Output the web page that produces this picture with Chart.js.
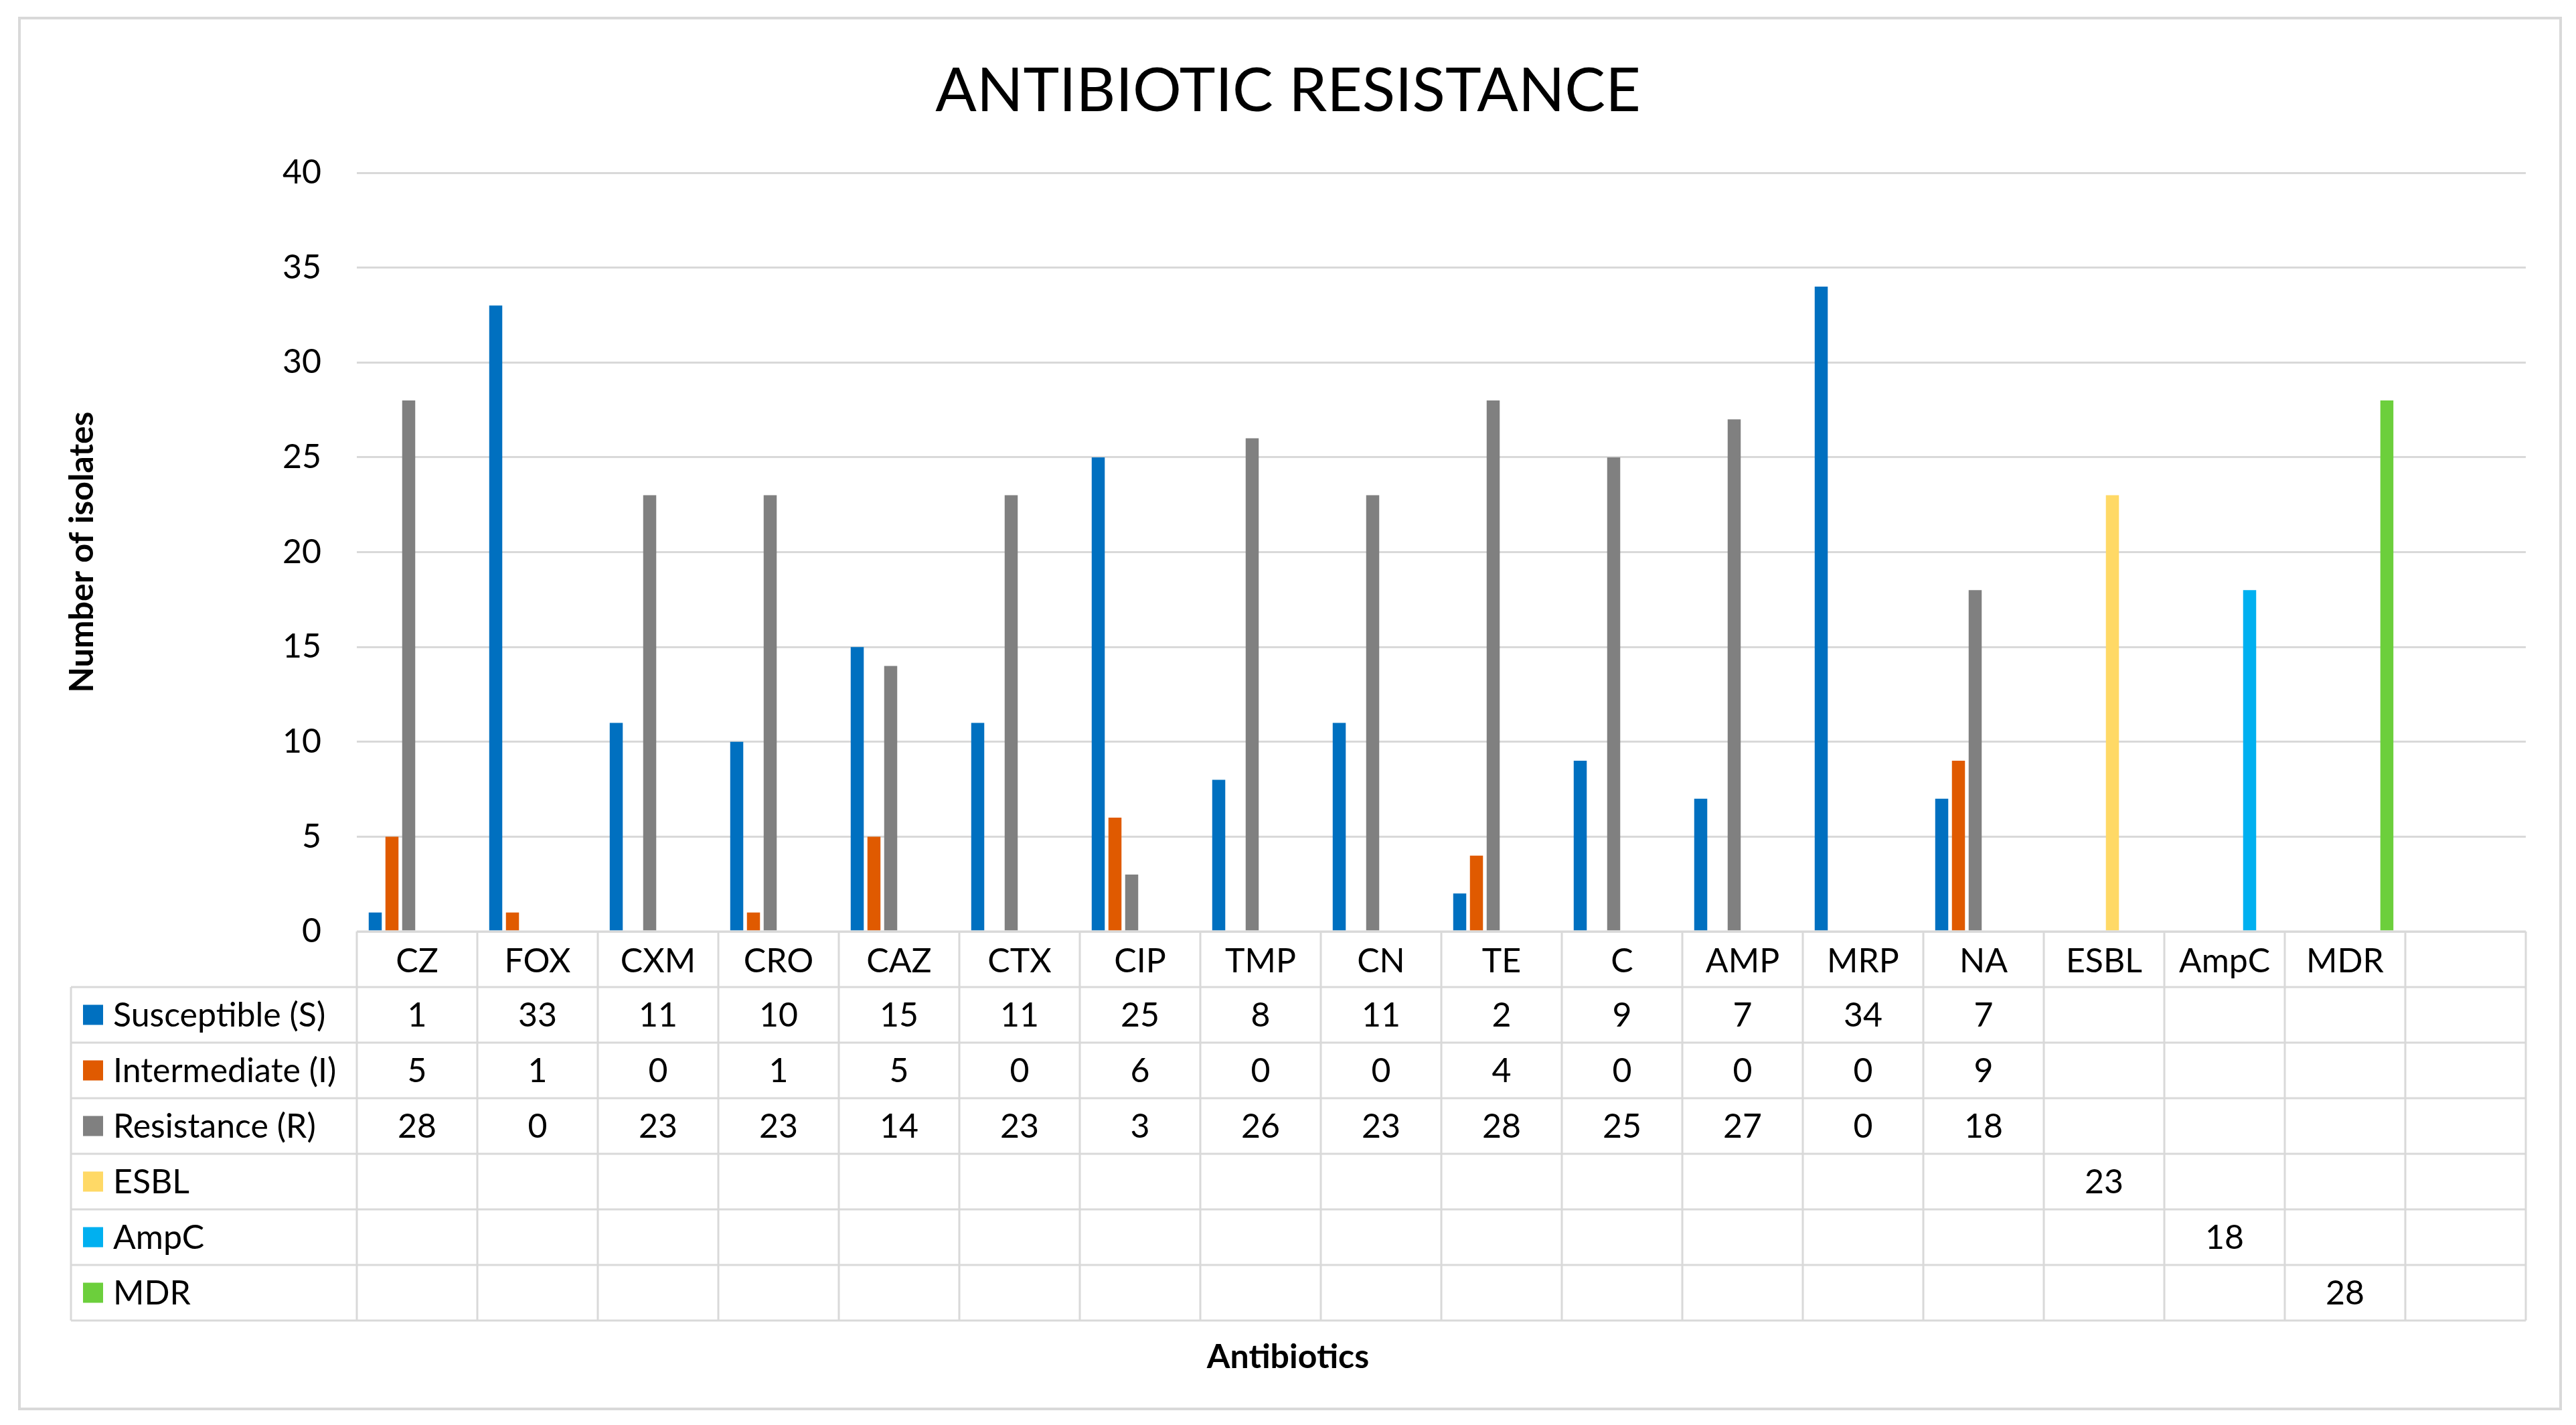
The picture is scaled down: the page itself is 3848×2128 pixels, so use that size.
<!DOCTYPE html>
<html>
<head>
<meta charset="utf-8">
<title>Antibiotic resistance</title>
<script src="https://cdn.jsdelivr.net/npm/chart.js@4.4.1/dist/chart.umd.min.js"></script>
<style>
  html, body { margin: 0; padding: 0; background: #fff; }
  canvas { display: block; }
</style>
</head>
<body>
<canvas id="chart" width="3848" height="2128"></canvas>
<script>
// Categories (last column is empty in the original)
const antibiotics = ['CZ', 'FOX', 'CXM', 'CRO', 'CAZ', 'CTX', 'CIP', 'TMP', 'CN', 'TE', 'C', 'AMP', 'MRP', 'NA', 'ESBL', 'AmpC', 'MDR', ''];

// Series values (null = no value in that column)
const susceptible  = [1, 33, 11, 10, 15, 11, 25, 8, 11, 2, 9, 7, 34, 7, null, null, null, null];
const intermediate = [5, 1, 0, 1, 5, 0, 6, 0, 0, 4, 0, 0, 0, 9, null, null, null, null];
const resistance   = [28, 0, 23, 23, 14, 23, 3, 26, 23, 28, 25, 27, 0, 18, null, null, null, null];
const esbl  = [null, null, null, null, null, null, null, null, null, null, null, null, null, null, 23, null, null, null];
const ampc  = [null, null, null, null, null, null, null, null, null, null, null, null, null, null, null, 18, null, null];
const mdr   = [null, null, null, null, null, null, null, null, null, null, null, null, null, null, null, null, 28, null];

// Y axis ticks
const yTicks = [0, 5, 10, 15, 20, 25, 30, 35, 40];

const seriesNames  = ['Susceptible (S)', 'Intermediate (I)', 'Resistance (R)', 'ESBL', 'AmpC', 'MDR'];
const seriesColors = ['#0070c0', '#e05a00', '#808080', '#ffd966', '#00b0f0', '#6ccf3c'];
const seriesData   = [susceptible, intermediate, resistance, esbl, ampc, mdr];

Chart.defaults.font.family = 'Lato';
Chart.defaults.color = '#000';

const gridColor = '#d9d9d9';
const textFont = '50px Lato';

// white background + outer chart border
const chartFrame = {
  id: 'chartFrame',
  beforeDraw(chart) {
    const ctx = chart.ctx;
    ctx.save();
    ctx.fillStyle = '#fff';
    ctx.fillRect(0, 0, chart.width, chart.height);
    ctx.strokeStyle = gridColor;
    ctx.lineWidth = 4;
    ctx.strokeRect(29, 27, 3796, 2077);
    ctx.restore();
  }
};

// data table under the plot (header row = x axis labels)
const dataTable = {
  id: 'dataTable',
  afterDraw(chart) {
    const ctx = chart.ctx;
    const xs = chart.scales.x;
    const top = chart.chartArea.bottom;
    const n = chart.data.labels.length;
    const colW = (xs.right - xs.left) / n;
    const rowH = 83;
    const sets = chart.data.datasets;
    const bottom = top + rowH * (sets.length + 1);
    const tableLeft = 106;

    ctx.save();
    ctx.strokeStyle = gridColor;
    ctx.lineWidth = 3;
    ctx.beginPath();
    ctx.moveTo(xs.left, top);
    ctx.lineTo(xs.right, top);
    for (let r = 1; r <= sets.length + 1; r++) {
      const y = top + r * rowH;
      ctx.moveTo(tableLeft, y);
      ctx.lineTo(xs.right, y);
    }
    for (let c = 0; c <= n; c++) {
      const x = xs.left + c * colW;
      ctx.moveTo(x, top);
      ctx.lineTo(x, bottom);
    }
    ctx.moveTo(tableLeft, top + rowH);
    ctx.lineTo(tableLeft, bottom);
    ctx.stroke();

    ctx.font = textFont;
    ctx.textBaseline = 'middle';
    sets.forEach((ds, i) => {
      const cy = top + (i + 1) * rowH + rowH / 2;
      // legend key + series name
      ctx.fillStyle = ds.backgroundColor;
      ctx.fillRect(124, cy - 15, 30, 30);
      ctx.fillStyle = '#000';
      ctx.textAlign = 'left';
      ctx.fillText(ds.label, 169, cy + 1);
      // values
      ctx.textAlign = 'center';
      ds.data.forEach((v, j) => {
        if (v === null) return;
        ctx.fillText(String(v), xs.getPixelForValue(j), cy + 1);
      });
    });
    ctx.restore();
  }
};

new Chart(document.getElementById('chart'), {
  type: 'bar',
  data: {
    labels: antibiotics,
    datasets: seriesNames.map((name, i) => ({
      label: name,
      data: seriesData[i],
      backgroundColor: seriesColors[i],
      borderWidth: 0,
      categoryPercentage: 0.833,
      barPercentage: 0.78
    }))
  },
  options: {
    responsive: false,
    animation: false,
    layout: { padding: { left: 75, right: 75, top: 0, bottom: 71 } },
    plugins: {
      legend: { display: false },
      tooltip: { enabled: false },
      title: {
        display: true,
        text: 'ANTIBIOTIC RESISTANCE',
        color: '#000',
        font: { family: 'Lato', size: 91, weight: 'normal', lineHeight: 1.2 },
        padding: { top: 82, bottom: 66.8 }
      },
      subtitle: {
        display: true,
        position: 'bottom',
        text: 'Antibiotics',
        color: '#000',
        font: { family: 'Lato', size: 50, weight: 'bold', lineHeight: 1.2 },
        padding: { top: 20, bottom: 0 }
      }
    },
    scales: {
      x: {
        grid: { display: false },
        border: { display: false },
        ticks: {
          color: '#000',
          font: { size: 50 },
          padding: 7,
          autoSkip: false,
          maxRotation: 0
        },
        afterFit(scale) { scale.height = 586; }
      },
      y: {
        min: 0,
        max: 40,
        afterBuildTicks(scale) { scale.ticks = yTicks.map(v => ({ value: v })); },
        ticks: { color: '#000', font: { size: 50 }, padding: 53 },
        grid: { color: gridColor, lineWidth: 3, drawTicks: false },
        border: { display: false },
        title: {
          display: true,
          text: 'Number of isolates',
          color: '#000',
          font: { size: 50, weight: 'bold', lineHeight: 1.2 },
          padding: { top: 18, bottom: 0 }
        },
        afterFit(scale) { scale.width = 458; }
      }
    }
  },
  plugins: [chartFrame, dataTable]
});
</script>
</body>
</html>
